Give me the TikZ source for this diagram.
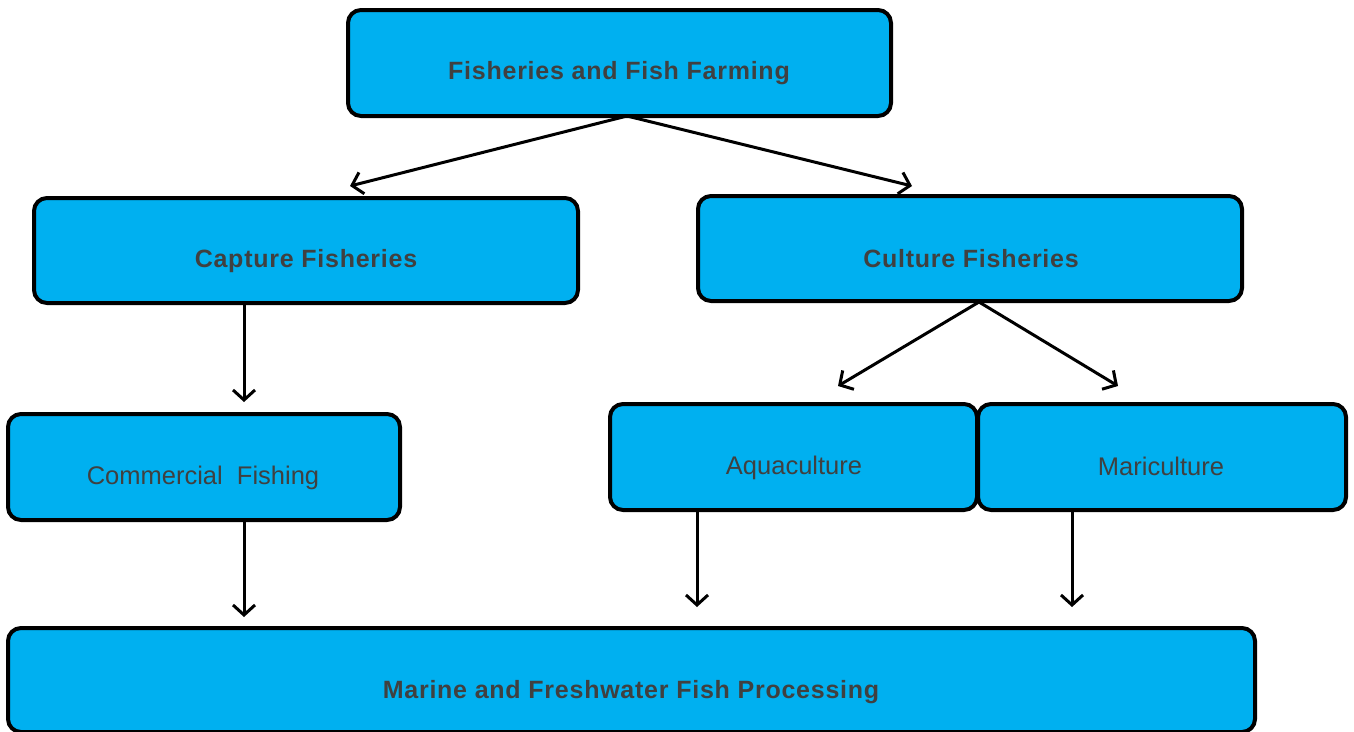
\documentclass[tikz,border=0pt]{standalone}
\usepackage{fontspec}
\setmainfont{Liberation Sans}
\usetikzlibrary{arrows.meta}
\definecolor{boxfill}{HTML}{00B0F0}
\definecolor{txt}{HTML}{404040}
\begin{document}
\begin{tikzpicture}[x=1pt,y=-1pt,
  box/.style={draw=black,line width=4pt,fill=boxfill,rounded corners=13pt,text=txt},
  conn/.style={draw=black,line width=3pt,-{Straight Barb[length=10pt,width=22pt,line width=3pt]}},
  bt/.style={font=\fontsize{25}{28}\selectfont\bfseries\addfontfeature{LetterSpace=3},text=txt},
  rt/.style={font=\fontsize{25.5}{28}\selectfont,text=txt}]
\useasboundingbox (0,0) rectangle (1354,731);
\draw[box] (348,10) rectangle (891,116);
\draw[box] (34,198) rectangle (578,303);
\draw[box] (698,196) rectangle (1242,301);
\draw[box] (8,414) rectangle (400,520);
\draw[box] (610,404) rectangle (977,510);
\draw[box] (978,404) rectangle (1346,510);
\draw[box] (8,628) rectangle (1255,732);
\node[bt] (top) at (619,73) {Fisheries and Fish Farming};
\node[bt] (cap) at (306,261) {Capture Fisheries};
\node[bt] (cul) at (971,259) {Culture Fisheries};
\node[rt] (com) at (203,478) {Commercial\ \ Fishing};
\node[rt] (aqu) at (794,468) {Aquaculture};
\node[rt] (mar) at (1161,466) {Mariculture};
\node[bt] (pro) at (631,692) {Marine and Freshwater Fish Processing};
\coordinate (topb) at (627,116);
\coordinate (capt) at (350,186);
\coordinate (cult) at (912,186);
\coordinate (capb) at (244,303);
\coordinate (comt) at (244,402);
\coordinate (culb) at (979,302);
\coordinate (aqut) at (838,386);
\coordinate (mart) at (1118,386);
\coordinate (comb) at (244,520);
\coordinate (prot1) at (244,617);
\coordinate (aqub) at (697,510);
\coordinate (prot2) at (697,607);
\coordinate (marb) at (1072,510);
\coordinate (prot3) at (1072,607);
\draw[conn] (topb) -- (capt);
\draw[conn] (topb) -- (cult);
\draw[conn] (capb) -- (comt);
\draw[conn] (culb) -- (aqut);
\draw[conn] (culb) -- (mart);
\draw[conn] (comb) -- (prot1);
\draw[conn] (aqub) -- (prot2);
\draw[conn] (marb) -- (prot3);
\end{tikzpicture}
\end{document}
